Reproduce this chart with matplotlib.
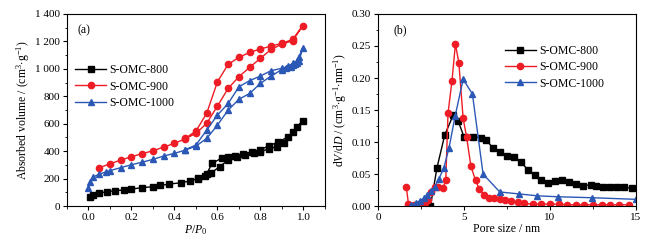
import numpy as np
import matplotlib.pyplot as plt
from matplotlib.ticker import MultipleLocator, FuncFormatter

plt.rcParams['font.family'] = ['Liberation Serif', 'DejaVu Serif']
plt.rcParams['mathtext.fontset'] = 'custom'
plt.rcParams['mathtext.rm'] = 'Liberation Serif'
plt.rcParams['mathtext.it'] = 'Liberation Serif:italic'

# (a) N2 isotherms: adsorption branch then desorption branch
p800 = [0.005, 0.02, 0.05, 0.085, 0.125, 0.165, 0.2, 0.25, 0.3, 0.335, 0.375, 0.43, 0.47, 0.51, 0.54,
        0.57, 0.61, 0.65, 0.69, 0.73, 0.77, 0.8, 0.84, 0.875, 0.91, 0.95, 0.997,
        0.97, 0.93, 0.88, 0.84, 0.8, 0.76, 0.72, 0.68, 0.65, 0.62, 0.575, 0.55, 0.51]
v800 = [68, 82, 95, 104, 112, 117, 124, 134, 141, 150, 160, 170, 182, 200, 220,
        240, 287, 335, 360, 375, 385, 396, 418, 433, 457, 540, 620,
        578, 505, 465, 440, 410, 392, 380, 368, 360, 350, 311, 235, 205]
p900 = [0.05, 0.1, 0.15, 0.2, 0.25, 0.3, 0.35, 0.4, 0.45, 0.5, 0.55, 0.6, 0.65, 0.7, 0.75, 0.8,
        0.85, 0.9, 0.95, 0.997,
        0.95, 0.9, 0.85, 0.8, 0.75, 0.7, 0.65, 0.6, 0.55, 0.5, 0.45]
v900 = [279, 308, 335, 360, 382, 403, 430, 457, 490, 530, 603, 729, 858, 943, 1011, 1077,
        1142, 1180, 1205, 1315,
        1215, 1186, 1166, 1145, 1120, 1084, 1033, 906, 676, 547, 493]
p1000 = [0.0, 0.008, 0.02, 0.05, 0.08, 0.1, 0.15, 0.2, 0.25, 0.3, 0.35, 0.4, 0.45, 0.5, 0.55, 0.6,
         0.65, 0.7, 0.75, 0.8, 0.85, 0.9, 0.92, 0.94, 0.95, 0.96, 0.97, 0.98, 0.997,
         0.98, 0.97, 0.95, 0.93, 0.9, 0.85, 0.8, 0.75, 0.7, 0.65, 0.6, 0.55, 0.5, 0.45]
v1000 = [134, 177, 210, 233, 248, 258, 280, 301, 320, 340, 365, 384, 408, 437, 493, 590,
         700, 778, 821, 894, 948, 995, 1005, 1015, 1025, 1035, 1045, 1060, 1154,
         1090, 1060, 1040, 1020, 1004, 987, 948, 914, 870, 748, 663, 554, 445, 410]

# (b) pore size distributions
d800 = [3.05, 3.43, 3.88, 4.37, 4.66, 5.0, 5.5, 5.96, 6.3, 6.7, 7.1, 7.5, 7.9, 8.3, 8.7, 9.1, 9.5,
        9.9, 10.3, 10.7, 11.1, 11.5, 11.9, 12.4, 12.7, 13.1, 13.5, 13.9, 14.3, 14.75]
s800 = [0.0, 0.06, 0.111, 0.142, 0.133, 0.108, 0.108, 0.107, 0.103, 0.09, 0.084, 0.078, 0.077, 0.069,
        0.057, 0.048, 0.041, 0.036, 0.039, 0.041, 0.038, 0.035, 0.032, 0.033, 0.032, 0.030, 0.029,
        0.029, 0.029, 0.028]
d900 = [1.65, 1.77, 2.1, 2.5, 2.75, 2.9, 3.1, 3.3, 3.5, 3.78, 3.94, 4.07, 4.3, 4.5, 4.7, 4.95, 5.15,
        5.4, 5.67, 5.9, 6.17, 6.46, 6.77, 7.08, 7.4, 7.76, 8.15, 8.5, 9.0, 9.5, 10.0, 10.5, 11.0,
        11.5, 12.0, 12.5, 13.0, 13.5, 14.0, 14.6]
s900 = [0.029, 0.003, 0.002, 0.003, 0.005, 0.01, 0.022, 0.03, 0.03, 0.028, 0.041, 0.145, 0.195,
        0.253, 0.224, 0.137, 0.108, 0.0625, 0.04, 0.026, 0.018, 0.012, 0.012, 0.011, 0.009, 0.008,
        0.006, 0.004, 0.003, 0.003, 0.003, 0.003, 0.002, 0.002, 0.002, 0.002, 0.002, 0.002, 0.002,
        0.002]
d1000 = [1.94, 2.2, 2.43, 2.66, 2.87, 3.1, 3.3, 3.53, 3.82, 4.13, 4.48, 4.95, 5.49, 6.11, 7.08,
         8.19, 9.26, 10.48, 12.46, 15.0]
s1000 = [0.002, 0.005, 0.008, 0.012, 0.017, 0.024, 0.03, 0.042, 0.059, 0.091, 0.14, 0.198, 0.175,
         0.05, 0.022, 0.019, 0.016, 0.0145, 0.013, 0.0105]

labels = ['S-OMC-800', 'S-OMC-900', 'S-OMC-1000']
colors = ['black', '#ee1c24', '#2b57b5']
markers = ['s', 'o', '^']

fig = plt.figure(figsize=(6.58, 2.41), dpi=100)
ax1 = fig.add_axes([0.1018, 0.145, 0.392, 0.797])
ax2 = fig.add_axes([0.5745, 0.145, 0.392, 0.797])

for x, y, lab, c, m in zip([p800, p900, p1000], [v800, v900, v1000], labels, colors, markers):
    ax1.plot(x, y, color=c, marker=m, markersize=4.5, lw=1, label=lab)
for x, y, lab, c, m in zip([d800, d900, d1000], [s800, s900, s1000], labels, colors, markers):
    ax2.plot(x, y, color=c, marker=m, markersize=4.5, lw=1, label=lab)

ax1.set_xlim(-0.1, 1.1)
ax1.set_ylim(0, 1400)
ax1.xaxis.set_major_locator(MultipleLocator(0.2))
ax1.xaxis.set_minor_locator(MultipleLocator(0.1))
ax1.yaxis.set_major_locator(MultipleLocator(200))
ax1.yaxis.set_minor_locator(MultipleLocator(100))
ax1.xaxis.set_major_formatter(FuncFormatter(lambda v, p: '%.1f' % v))
ax1.yaxis.set_major_formatter(FuncFormatter(
    lambda v, p: ('%d %03d' % (v // 1000, v % 1000)) if v >= 1000 else '%d' % v))
ax1.set_xlabel(r'$P/P_0$', fontsize=8.5, labelpad=1)
ax1.set_ylabel(r'Absorbed volume / (cm$^3$$\cdot$g$^{-1}$)', fontsize=8.5, labelpad=2)
ax1.text(0.04, 0.9, '(a)', transform=ax1.transAxes, fontsize=8.5)
ax1.legend(loc='upper left', bbox_to_anchor=(0.0, 0.78), frameon=False, fontsize=8.5,
           handlelength=2.6, handletextpad=0.3, labelspacing=0.35, borderaxespad=0.3)

ax2.set_xlim(0, 15)
ax2.set_ylim(0, 0.3)
ax2.xaxis.set_major_locator(MultipleLocator(5))
ax2.xaxis.set_minor_locator(MultipleLocator(2.5))
ax2.yaxis.set_major_locator(MultipleLocator(0.05))
ax2.yaxis.set_minor_locator(MultipleLocator(0.025))
ax2.yaxis.set_major_formatter(FuncFormatter(lambda v, p: '%.2f' % v))
ax2.set_xlabel('Pore size / nm', fontsize=8.5, labelpad=1)
ax2.set_ylabel(r'd$V$/d$D$ / (cm$^3$$\cdot$g$^{-1}$$\cdot$nm$^{-1}$)', fontsize=8.5, labelpad=2)
ax2.text(0.06, 0.9, '(b)', transform=ax2.transAxes, fontsize=8.5)
ax2.legend(loc='upper left', bbox_to_anchor=(0.46, 0.88), frameon=False, fontsize=8.5,
           handlelength=2.6, handletextpad=0.3, labelspacing=0.35, borderaxespad=0.3)

for ax in (ax1, ax2):
    ax.tick_params(which='both', direction='out', top=False, right=False, labelsize=8, pad=2)
    ax.tick_params(which='major', length=3)
    ax.tick_params(which='minor', length=1.8)
    for s in ax.spines.values():
        s.set_linewidth(0.8)

fig.savefig('out.png', dpi=100)
